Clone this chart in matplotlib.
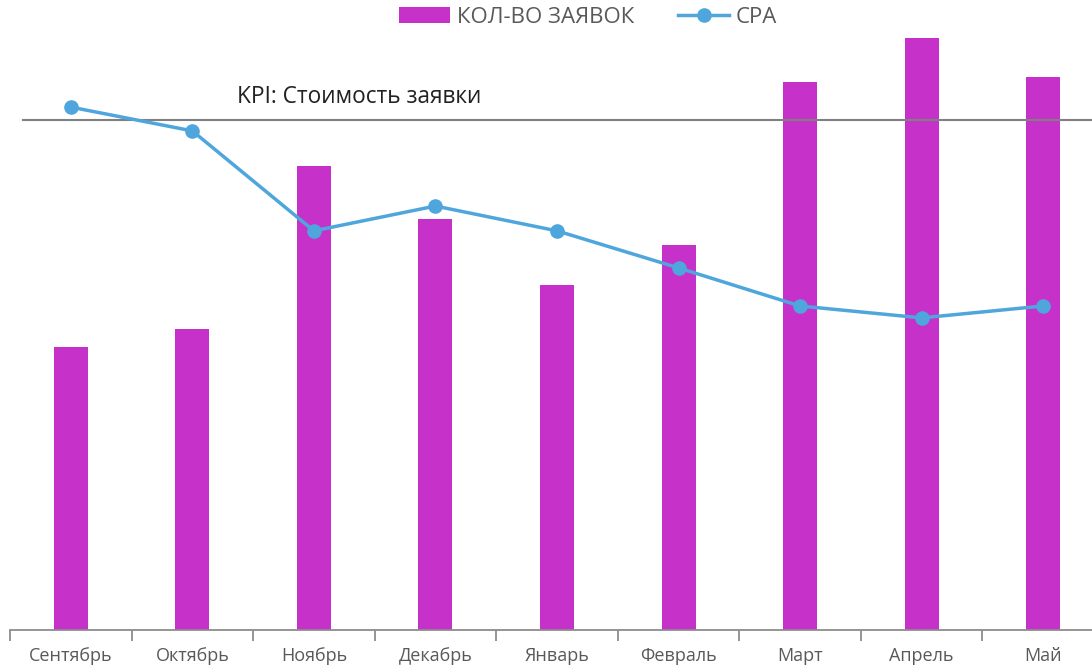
import matplotlib.pyplot as plt
import numpy as np

plt.rcParams['font.family'] = ['Open Sans', 'DejaVu Sans']

months = ['Сентябрь', 'Октябрь', 'Ноябрь', 'Декабрь', 'Январь',
          'Февраль', 'Март', 'Апрель', 'Май']
requests = [64, 68, 105, 93, 78, 87, 124, 134, 125]
cpa = [1538, 1468, 1174, 1247, 1174, 1065, 953, 918, 953]
kpi = 1500

x = np.arange(len(months))

fig = plt.figure(figsize=(10.92, 6.67), dpi=100)
ax = fig.add_axes([10 / 1092, 37 / 667, 1094 / 1092, 630 / 667])
ax2 = ax.twinx()

bars = ax.bar(x, requests, width=0.28, color='#C531C9', label='КОЛ-ВО ЗАЯВОК')
ax.set_xlim(-0.5, 8.5)
ax.set_ylim(0, 142.5)

ax2.axhline(kpi, xmin=0.012, xmax=1, color='#808080', lw=1.5)
ax2.text(1.37, kpi + 68, 'KPI: Стоимость заявки', fontsize=16.3, color='#222222',
         va='center', ha='left')
line, = ax2.plot(x, cpa, color='#4EA6DC', lw=2.5, marker='o', markersize=9.5,
                 label='CPA')
ax2.set_ylim(0, 1853)

for a in (ax, ax2):
    for s in ['top', 'right', 'left']:
        a.spines[s].set_visible(False)
    a.set_yticks([])
ax2.spines['bottom'].set_visible(False)
ax.spines['bottom'].set_color('#8c8c8c')
ax.spines['bottom'].set_linewidth(1.3)

ax.set_xticks(x)
ax.set_xticklabels(months, fontsize=13, color='#595959')
ax.tick_params(axis='x', which='major', length=0, pad=12.5)
ax.set_xticks(np.arange(-0.5, 9, 1), minor=True)
ax.tick_params(axis='x', which='minor', length=8, color='#8c8c8c', width=1.3)

fig.legend(handles=[bars, line], loc='upper center', bbox_to_anchor=(0.5385, 1.02),
           ncol=2, frameon=False, fontsize=16, labelcolor='#595959',
           handlelength=2.3, columnspacing=2.0, handletextpad=0.3)

fig.savefig('out.png', dpi=100)
